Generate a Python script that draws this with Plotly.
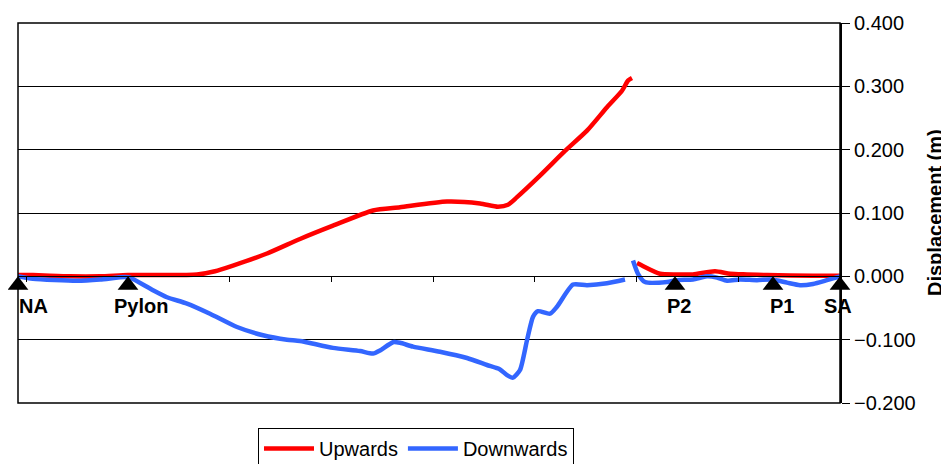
import plotly.graph_objects as go

# ---- data (x = chainage along deck, arbitrary units; y = displacement in m) ----
up_x = [0, 15, 52, 82, 110, 142, 179, 197, 215, 249, 282, 315, 355, 382, 429, 462, 480, 490, 499, 522, 547, 569, 589, 604, 610, 614,
        None,
        619, 624, 642, 659, 675, 697, 712, 729, 749, 795, 822]
up_y = [0.002, 0.002, 0.000, 0.000, 0.002, 0.002, 0.003, 0.008, 0.017, 0.036, 0.059, 0.080, 0.104, 0.109, 0.118, 0.115, 0.110, 0.113, 0.125, 0.159, 0.198, 0.230, 0.267, 0.293, 0.309, 0.313,
        None,
        0.021, 0.017, 0.004, 0.003, 0.003, 0.008, 0.004, 0.003, 0.002, 0.001, 0.001]

down_x = [0, 15, 59, 82, 107, 112, 135, 149, 169, 192, 219, 245, 269, 282, 315, 342, 355, 362, 375, 382, 395, 422, 449, 469, 482, 489, 495, 502, 509, 515, 520, 532, 539, 555, 569, 589, 607,
          None,
          615, 620, 627, 649, 659, 675, 689, 699, 709, 722, 739, 754, 769, 782, 795, 809, 822]
down_y = [0.000, -0.004, -0.007, -0.005, -0.001, -0.002, -0.022, -0.033, -0.043, -0.059, -0.080, -0.093, -0.100, -0.102, -0.113, -0.118, -0.122, -0.117, -0.104, -0.105, -0.111, -0.119, -0.129, -0.140, -0.147, -0.156, -0.160, -0.148, -0.101, -0.064, -0.055, -0.059, -0.048, -0.013, -0.014, -0.011, -0.005,
          None,
          0.025, 0.004, -0.009, -0.009, -0.006, -0.005, 0.000, -0.002, -0.007, -0.005, -0.006, -0.005, -0.010, -0.014, -0.012, -0.006, 0.000]

support_x = [0, 110, 657, 755, 822]
support_labels = ["NA", "Pylon", "P2", "P1", "SA"]

y_ticks = [-0.2, -0.1, 0.0, 0.1, 0.2, 0.3, 0.4]
y_title = "Displacement (m)"

# ---- style ----
FONT = "Liberation Sans, Arial, sans-serif"
PAGE_OFF = 8                      # default body margin of the html page
W, H = 949 - PAGE_OFF, 464 - PAGE_OFF
ML, MT = 18 - PAGE_OFF, 23 - PAGE_OFF
MR = W - (840 - PAGE_OFF)
MB = H - (403 - PAGE_OFF)
YMIN, YMAX = -0.2, 0.4
plot_w = W - ML - MR
plot_h = H - MT - MB
tri_size = 18
tri_offset = -(tri_size / 2) * (YMAX - YMIN) / plot_h   # put apex on the zero line
label_xshift = [15, 13, 4, 9, -2]

fig = go.Figure()
fig.add_trace(go.Scatter(x=up_x, y=up_y, mode="lines", name="Upwards",
                         line=dict(color="#FF0000", width=4.5, shape="spline", smoothing=0.6),
                         connectgaps=False))
fig.add_trace(go.Scatter(x=down_x, y=down_y, mode="lines", name="Downwards",
                         line=dict(color="#3366FF", width=4.5, shape="spline", smoothing=0.6),
                         connectgaps=False))
fig.add_trace(go.Scatter(x=support_x, y=[tri_offset] * len(support_x), mode="markers",
                         marker=dict(symbol="triangle-up", size=tri_size, color="black"),
                         showlegend=False, hoverinfo="skip", cliponaxis=False))

for sx, lab, dx in zip(support_x, support_labels, label_xshift):
    fig.add_annotation(x=sx, y=0, text="<b>%s</b>" % lab, showarrow=False,
                       xanchor="center", yanchor="top", yshift=-17, xshift=dx,
                       font=dict(family=FONT, size=20, color="black"))

fig.add_annotation(xref="paper", yref="paper", x=(935 - PAGE_OFF - ML) / plot_w, y=0.5,
                   text="<b>%s</b>" % y_title, textangle=-90, showarrow=False,
                   xanchor="center", yanchor="middle",
                   font=dict(family=FONT, size=20, color="black"))

fig.add_shape(type="rect", xref="paper", yref="paper", x0=0, x1=1, y0=0, y1=1,
              line=dict(color="black", width=1.5), layer="above")

fig.update_layout(
    width=W, height=H,
    margin=dict(l=ML, r=MR, t=MT, b=MB, autoexpand=False),
    paper_bgcolor="white", plot_bgcolor="white",
    font=dict(family=FONT, size=20, color="black"),
    showlegend=True,
    legend=dict(orientation="h", x=(416 - 18) / plot_w, xanchor="center",
                y=(403 - 428) / plot_h, yanchor="top",
                bordercolor="black", borderwidth=1, bgcolor="white",
                font=dict(family=FONT, size=20, color="black"),
                itemwidth=50, tracegroupgap=0),
    xaxis=dict(range=[0, 822], anchor="free", position=(0 - YMIN) / (YMAX - YMIN),
               showline=True, linecolor="black", linewidth=1,
               ticks="outside", ticklen=5, tickcolor="black", tick0=8.4, dtick=101.7,
               showticklabels=False, showgrid=False, zeroline=False, automargin=False),
    yaxis=dict(range=[YMIN, YMAX], side="right", tickvals=y_ticks, tickformat=".3f",
               showline=True, linecolor="black", linewidth=2,
               ticks="outside", ticklen=8, tickcolor="black",
               showgrid=True, gridcolor="black", gridwidth=1, zeroline=False,
               tickfont=dict(family=FONT, size=20), automargin=False),
)

fig.write_html("out.html")
